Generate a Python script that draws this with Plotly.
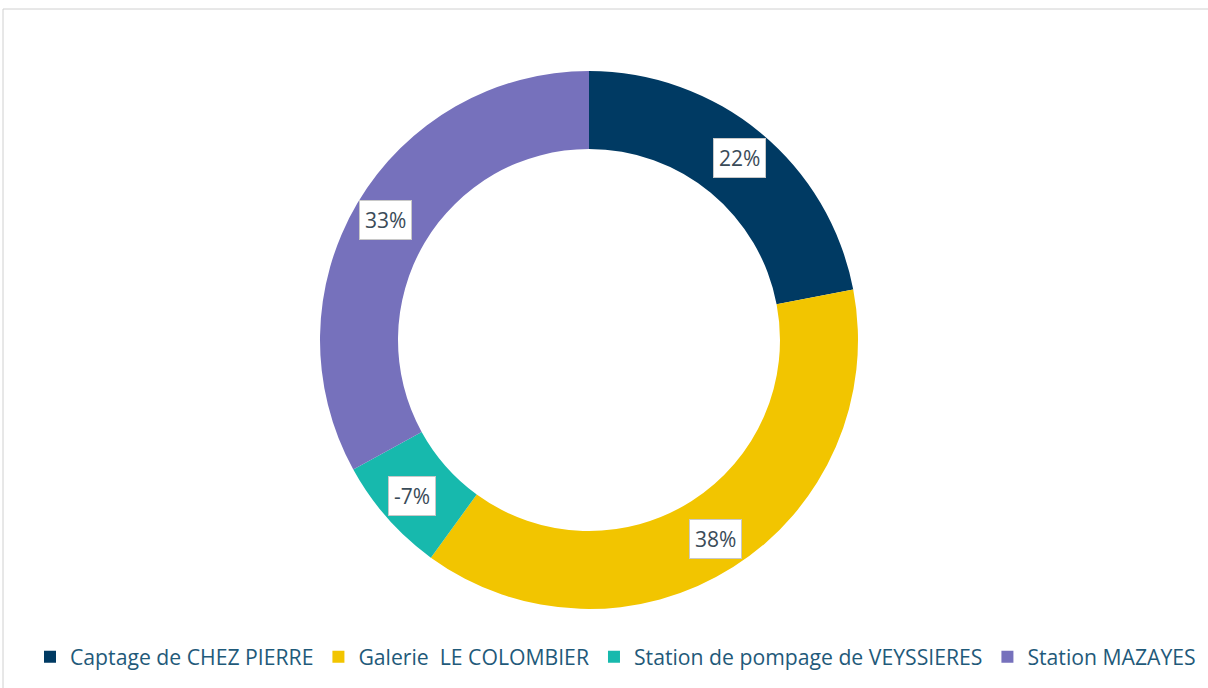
import math
import plotly.graph_objects as go

labels = ["Captage de CHEZ PIERRE", "Galerie  LE COLOMBIER",
          "Station de pompage de VEYSSIERES", "Station MAZAYES"]
shown_pct = [22, 38, -7, 33]
colors = ["#003A63", "#F2C500", "#17B9AD", "#7671BC"]

W, H = 1208, 688
cx, cy, R = 589, 348, 269   # centre (px from bottom-left) and outer radius
label_r = 236

values = [abs(v) for v in shown_pct]
total = sum(values)

fig = go.Figure(go.Pie(
    labels=labels, values=values, hole=0.71, sort=False, direction="clockwise",
    rotation=0, marker=dict(colors=colors, line=dict(width=0)),
    textinfo="none", hoverinfo="label+value",
    domain=dict(x=[(cx - R) / W, (cx + R) / W], y=[(cy - R) / H, (cy + R) / H]),
))

ann = []
cum = 0
for v, s in zip(values, shown_pct):
    mid = (cum + v / 2) / total * 2 * math.pi
    cum += v
    x = (cx + label_r * math.sin(mid)) / W
    y = (cy + label_r * math.cos(mid)) / H
    ann.append(dict(x=x, y=y, xref="paper", yref="paper", xanchor="center", yanchor="middle",
                    text=f"{s}%", showarrow=False,
                    font=dict(family="Open Sans", size=21, color="#3A4B58"),
                    bgcolor="white", bordercolor="#C8C8C8", borderwidth=1, borderpad=5))

fig.update_layout(
    width=W, height=H, margin=dict(l=0, r=0, t=0, b=0),
    paper_bgcolor="white", plot_bgcolor="white",
    annotations=ann,
    showlegend=True,
    legend=dict(orientation="h", x=30 / W, y=31 / H, xanchor="left", yanchor="middle",
                font=dict(family="Open Sans", size=21.2, color="#1F5A7A"),
                itemwidth=30, tracegroupgap=0, traceorder="normal"),
    shapes=[
        dict(type="line", xref="paper", yref="paper", x0=3 / W, x1=1, y0=1 - 9 / H, y1=1 - 9 / H,
             line=dict(color="#D0D0D0", width=1)),
        dict(type="line", xref="paper", yref="paper", x0=3 / W, x1=3 / W, y0=0, y1=1 - 9 / H,
             line=dict(color="#D0D0D0", width=1)),
    ],
)

fig.write_html("out.html", config={"displayModeBar": False},
               post_script="document.body.style.margin='0';document.body.style.overflow='hidden';")
